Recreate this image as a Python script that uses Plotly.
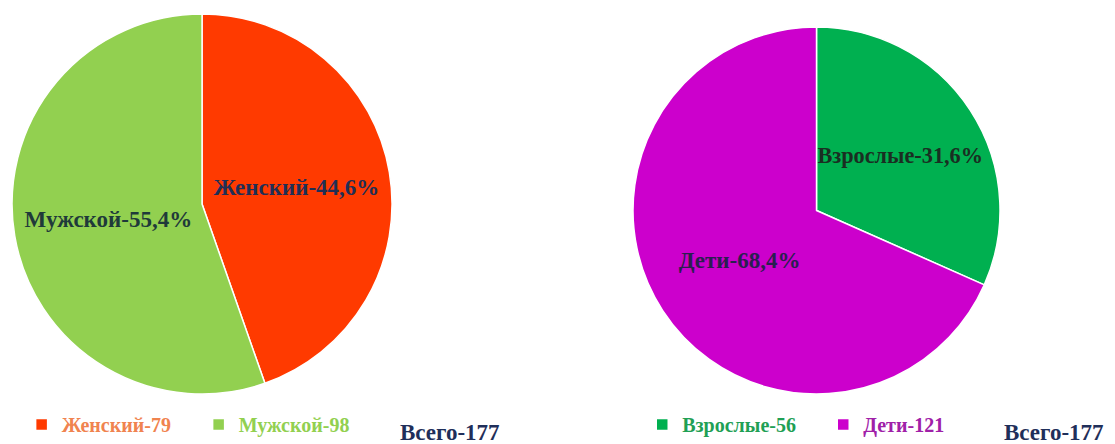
import plotly.graph_objects as go

# data
sex_labels = ["Женский", "Мужской"]
sex_counts = [79, 98]
sex_pct = ["44,6%", "55,4%"]

age_labels = ["Взрослые", "Дети"]
age_counts = [56, 121]
age_pct = ["31,6%", "68,4%"]

total_text = "Всего-177"

FONT = "Liberation Serif"


def legend_names(labels, counts, colors):
    return [f"<span style='color:{c}'>{l}-{n}</span>" for l, n, c in zip(labels, counts, colors)]


fig = go.Figure()

fig.add_trace(go.Pie(
    labels=legend_names(sex_labels, sex_counts, ["#F0834F", "#92D050"]),
    values=sex_counts,
    text=[f"<b>{l}-{p}</b>" for l, p in zip(sex_labels, sex_pct)],
    textinfo="text",
    textposition="inside",
    insidetextorientation="horizontal",
    textfont=dict(family=FONT, size=23, color=["#1F2F55", "#1F3A3A"]),
    marker=dict(colors=["#FF3A00", "#92D050"], line=dict(color="white", width=1.5)),
    sort=False,
    direction="clockwise",
    rotation=0,
    domain=dict(x=[0.0108, 0.3516], y=[0.1126, 0.9685]),
    legend="legend",
    hoverinfo="skip",
))

fig.add_trace(go.Pie(
    labels=legend_names(age_labels, age_counts, ["#1FA055", "#A020A8"]),
    values=age_counts,
    text=[f"<b>{l}-{p}</b>" for l, p in zip(age_labels, age_pct)],
    textinfo="text",
    textposition="inside",
    insidetextorientation="horizontal",
    textfont=dict(family=FONT, size=23, color=["#1A2E22", "#2A1F50"]),
    marker=dict(colors=["#00B050", "#CC00CC"], line=dict(color="white", width=1.5)),
    sort=False,
    direction="clockwise",
    rotation=0,
    domain=dict(x=[0.5677, 0.8969], y=[0.1126, 0.9392]),
    legend="legend2",
    hoverinfo="skip",
))

legend_font = dict(family=FONT, size=20, weight="bold")
fig.update_layout(
    width=1115,
    height=444,
    margin=dict(l=0, r=0, t=0, b=0),
    paper_bgcolor="white",
    font=dict(family=FONT, size=20),
    legend=dict(orientation="h", x=0.0194, y=0.0, xanchor="left", yanchor="bottom",
                font=legend_font, itemwidth=30, entrywidth=132),
    legend2=dict(orientation="h", x=0.576, y=0.0, xanchor="left", yanchor="bottom",
                 font=legend_font, itemwidth=30, entrywidth=136),
    annotations=[
        dict(text=f"<b>{total_text}</b>", x=0.357, y=0.0, xref="paper", yref="paper",
             xanchor="left", yanchor="bottom", showarrow=False, yshift=-3,
             font=dict(family=FONT, size=23, color="#1F2F5A")),
        dict(text=f"<b>{total_text}</b>", x=0.899, y=0.0, xref="paper", yref="paper",
             xanchor="left", yanchor="bottom", showarrow=False, yshift=-3,
             font=dict(family=FONT, size=23, color="#1F2F5A")),
    ],
)

fig.write_html("out.html", config={"displayModeBar": False},
               post_script="document.body.style.margin='0px';")
